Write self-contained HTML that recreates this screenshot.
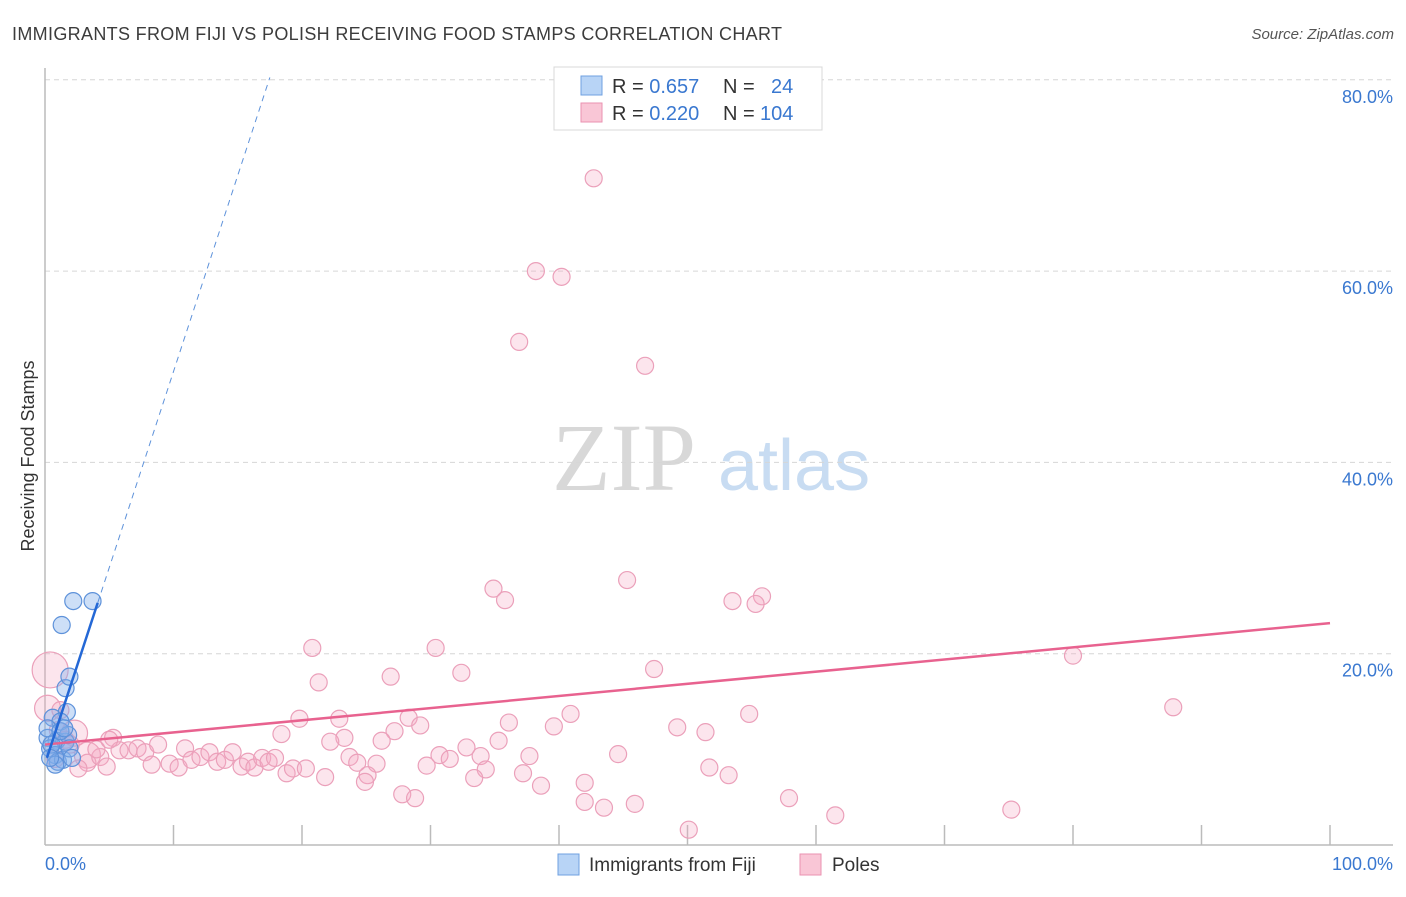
<!DOCTYPE html>
<html><head><meta charset="utf-8"><style>
body{margin:0;background:#fff;font-family:"Liberation Sans",sans-serif;}
svg text{font-family:"Liberation Sans",sans-serif;}
</style></head><body>
<svg id="chart" width="1406" height="892" xmlns="http://www.w3.org/2000/svg">
<text x="12" y="40" font-size="18" fill="#3c3c3c" textLength="770" lengthAdjust="spacing">IMMIGRANTS FROM FIJI VS POLISH RECEIVING FOOD STAMPS CORRELATION CHART</text>
<text x="1394" y="39" font-size="15" fill="#555" text-anchor="end" font-style="italic">Source: ZipAtlas.com</text>
<g>
<text x="552" y="490" font-size="96" fill="#d8d8d8" style="font-family:'Liberation Serif',serif">ZIP</text>
<text x="718" y="490" font-size="72" fill="#c8dcf2">atlas</text>
</g>
<g id="grid"></g>
<g id="axes"></g>
<text transform="translate(34,456) rotate(-90)" font-size="18" fill="#333" text-anchor="middle">Receiving Food Stamps</text>
<text x="45" y="870" font-size="18" fill="#3a78d0">0.0%</text>
<text x="1393" y="870" font-size="18" fill="#3a78d0" text-anchor="end">100.0%</text>
<g id="pink"></g>
<g id="blue"></g>
<g id="trends"></g>
<g>
<rect x="554" y="67" width="268" height="63" fill="#fff" stroke="#d8d8d8"/>
<rect x="581" y="76" width="21" height="19" fill="#b8d4f6" stroke="#6fa0e0"/>
<rect x="581" y="103" width="21" height="19" fill="#f9c6d6" stroke="#ea92b0"/>
<text x="612" y="93" font-size="20" fill="#333">R = <tspan fill="#3a78d0">0.657</tspan></text>
<text x="723" y="93" font-size="20" fill="#333">N =</text>
<text x="771" y="93" font-size="20" fill="#3a78d0">24</text>
<text x="612" y="120" font-size="20" fill="#333">R = <tspan fill="#3a78d0">0.220</tspan></text>
<text x="723" y="120" font-size="20" fill="#333">N =</text>
<text x="760" y="120" font-size="20" fill="#3a78d0">104</text>
</g>
<g>
<rect x="558" y="854" width="21" height="21" fill="#b8d4f6" stroke="#6fa0e0"/>
<text x="589" y="871" font-size="19" fill="#333">Immigrants from Fiji</text>
<rect x="800" y="854" width="21" height="21" fill="#f9c6d6" stroke="#ea92b0"/>
<text x="832" y="871" font-size="19" fill="#333">Poles</text>
</g>
</svg>
<script>
const yTicks=[20,40,60,80];
const yTickLabels=["20.0%","40.0%","60.0%","80.0%"];
const xTicks=[10,20,30,40,50,60,70,80,90,100];
const fijiX=[2.2,3.7,1.3,1.6,1.9,1.7,0.6,1.2,0.2,0.9,1.6,0.4,0.8,1.0,1.4,1.8,0.2,0.5,1.9,1.2,0.8,2.1,0.4,1.5];
const fijiY=[25.5,25.5,23.0,16.4,17.6,13.9,13.3,12.9,11.2,10.9,10.8,10.1,9.4,8.7,8.9,11.5,12.2,10.5,10.1,11.9,8.4,9.1,9.1,12.2];
const polesX=[42.7,38.2,40.2,36.9,46.7,45.3,34.9,35.8,53.5,55.8,55.3,20.8,30.4,80.0,47.4,32.4,21.3,26.9,87.8,54.8,40.9,19.8,22.9,28.3,29.2,36.1,39.6,49.2,51.4,27.2,18.4,23.3,22.2,26.2,35.3,32.8,30.7,33.9,37.7,44.6,23.7,24.3,25.8,31.5,29.7,34.3,37.2,33.4,25.1,24.9,42.0,51.7,53.2,38.6,27.8,28.8,42.0,43.5,45.9,57.9,61.5,75.2,50.1,0.4,0.2,1.2,2.3,1.6,3.3,3.3,4.3,4.8,5.3,5.8,6.5,7.2,7.8,8.3,8.8,9.7,10.4,10.9,11.4,12.1,12.8,13.4,14.0,14.6,15.3,15.8,16.3,16.9,17.4,17.9,18.8,19.3,20.3,21.8,1.0,2.0,0.8,2.6,4.0,5.0];
const polesY=[69.7,60.0,59.4,52.6,50.1,27.7,26.8,25.6,25.5,26.0,25.2,20.6,20.6,19.8,18.4,18.0,17.0,17.6,14.4,13.7,13.7,13.2,13.2,13.3,12.5,12.8,12.4,12.3,11.8,11.9,11.6,11.2,10.8,10.9,10.9,10.2,9.4,9.3,9.3,9.5,9.2,8.6,8.5,9.0,8.3,7.9,7.5,7.0,7.3,6.6,6.5,8.1,7.3,6.2,5.3,4.9,4.5,3.9,4.3,4.9,3.1,3.7,1.6,18.3,14.3,14.1,11.7,11.0,9.4,8.6,9.2,8.2,11.2,9.9,9.9,10.1,9.7,8.4,10.5,8.5,8.1,10.1,8.9,9.2,9.7,8.7,8.9,9.7,8.2,8.7,8.1,9.1,8.7,9.1,7.5,8.0,8.0,7.1,12.0,10.5,9.0,8.0,10.0,11.0];
const fijiTrend=[8.5,4.1];
const polesTrend=[10.5,0.127];
const NS="http://www.w3.org/2000/svg";
const X=v=>45+v*12.85;
const Y=v=>845-v*9.565;
function mk(tag,attrs,parent){const e=document.createElementNS(NS,tag);for(const k in attrs)e.setAttribute(k,attrs[k]);parent.appendChild(e);return e;}
const grid=document.getElementById('grid'),axes=document.getElementById('axes');
yTicks.forEach((t,i)=>{
 const l=mk('line',{x1:45,x2:1393,y1:Y(t),y2:Y(t),stroke:'#d6d6d6','stroke-dasharray':'5,4'},grid);
 
 
 const tx=mk('text',{x:1393,y:Y(t)+23,'font-size':18,fill:'#3a78d0','text-anchor':'end'},axes);
 tx.textContent=yTickLabels[i];
 
 
});
const ax=mk('line',{x1:45,x2:1393,y1:845,y2:845,stroke:'#bbb','stroke-width':1.5},axes);


const ay=mk('line',{x1:45,x2:45,y1:68,y2:845,stroke:'#bbb','stroke-width':1.5},axes);


xTicks.forEach(t=>{
 const l=mk('line',{x1:X(t),x2:X(t),y1:825,y2:845,stroke:'#bbb','stroke-width':1.5},axes);
 
 
});
const pink=document.getElementById('pink');
polesX.forEach((x,i)=>{
 const r=(i===63)?18:(i===64||i===66||i===68)?13:8.5;
 const c=mk('circle',{cx:X(x),cy:Y(polesY[i]),r:r,fill:'rgba(244,170,196,0.3)',stroke:'#eba0ba','stroke-width':1.2},pink);
 
 
});
const blue=document.getElementById('blue');
fijiX.forEach((x,i)=>{
 const c=mk('circle',{cx:X(x),cy:Y(fijiY[i]),r:8.5,fill:'rgba(130,175,235,0.4)',stroke:'#5e92da','stroke-width':1.2},blue);
 
 
});
const tr=document.getElementById('trends');
const pl=mk('line',{x1:X(0),y1:Y(polesTrend[0]),x2:X(100),y2:Y(polesTrend[0]+polesTrend[1]*100),stroke:'#e8628f','stroke-width':2.5},tr);


const fx0=0.15,fx1=4.1,fx2=17.5;
const bl=mk('line',{x1:X(fx0),y1:Y(fijiTrend[0]+fijiTrend[1]*fx0),x2:X(fx1),y2:Y(fijiTrend[0]+fijiTrend[1]*fx1),stroke:'#2468d6','stroke-width':2.5},tr);


const bd=mk('line',{x1:X(fx1),y1:Y(fijiTrend[0]+fijiTrend[1]*fx1),x2:X(fx2),y2:Y(fijiTrend[0]+fijiTrend[1]*fx2),stroke:'#5e92da','stroke-width':1,'stroke-dasharray':'6,5'},tr);


</script>
</body></html>
